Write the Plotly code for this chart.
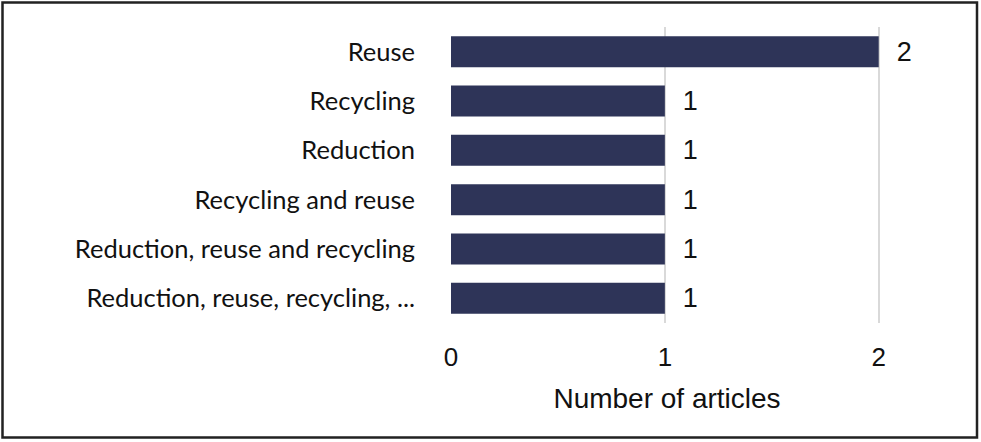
import plotly.graph_objects as go

# categories top to bottom as in the chart
categories = [
    "Reuse",
    "Recycling",
    "Reduction",
    "Recycling and reuse",
    "Reduction, reuse and recycling",
    "Reduction, reuse, recycling, ...",
]
articles = [2, 1, 1, 1, 1, 1]
x_ticks = [0, 1, 2]

W, H = 981, 442
ML, MR, MT, MB = 451, 98, 27, 119
pw, ph = W - ML - MR, H - MT - MB

fig = go.Figure()
fig.add_trace(go.Bar(
    y=categories,
    x=articles,
    orientation="h",
    marker=dict(color="#2e3458", line=dict(width=0)),
    width=0.63,
    text=["\u00a0\u00a0" + str(v) for v in articles],
    textposition="outside",
    cliponaxis=False,
    textfont=dict(family="Liberation Sans, Arial", size=27, color="#111111"),
))

fig.update_layout(
    width=W, height=H,
    margin=dict(l=ML, r=MR, t=MT, b=MB),
    paper_bgcolor="white",
    plot_bgcolor="white",
    showlegend=False,
    xaxis=dict(
        range=[0, 2.02],
        tickvals=x_ticks,
        ticktext=[str(t) for t in x_ticks],
        showgrid=True,
        gridcolor="#d9d9d9",
        gridwidth=1.5,
        zeroline=False,
        showline=False,
        ticks="",
        ticklabelstandoff=16,
        tickfont=dict(family="Liberation Sans, Arial", size=26, color="#111111"),
        title=dict(text="Number of articles", standoff=17,
                   font=dict(family="Liberation Sans, Arial", size=28, color="#111111")),
    ),
    yaxis=dict(
        autorange="reversed",
        showgrid=False,
        zeroline=False,
        showline=False,
        ticks="",
        ticklabelstandoff=35,
        tickfont=dict(family="Lato, Open Sans", size=25.5, color="#111111"),
    ),
)

# outer frame around the whole picture
fig.add_shape(
    type="rect", xref="paper", yref="paper",
    x0=(2.5 - ML) / pw, x1=(W - 4 - ML) / pw,
    y0=-(H - 4.5 - MT - ph) / ph, y1=1 + (MT - 2.5) / ph,
    line=dict(color="#222222", width=2.5),
)

fig.write_html("out.html", config={"displayModeBar": False},
               post_script="document.body.style.margin='0';")
